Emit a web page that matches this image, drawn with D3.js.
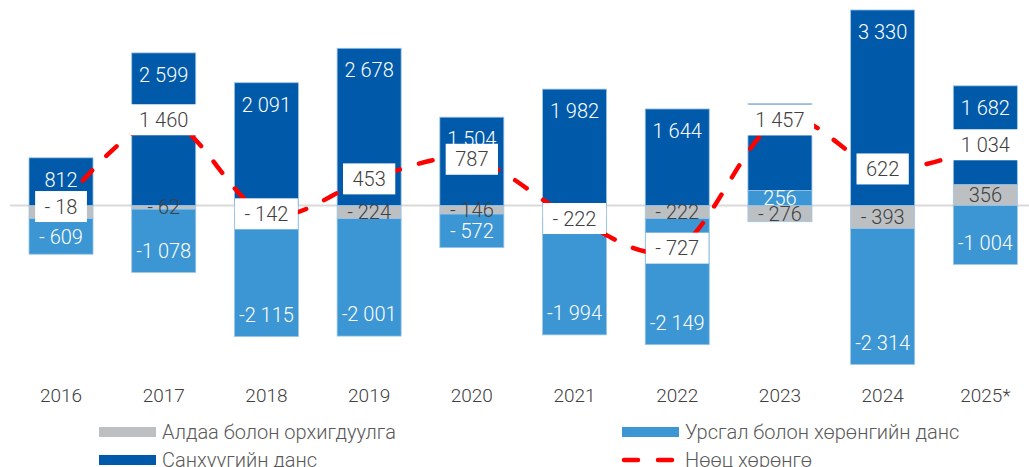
<!DOCTYPE html>
<html>
<head>
<meta charset="utf-8">
<script src="https://cdn.jsdelivr.net/npm/d3@7/dist/d3.min.js"></script>
<style>
  html, body { margin: 0; padding: 0; background: #fff; }
  svg { display: block; font-family: Roboto, "Open Sans", sans-serif; }
</style>
</head>
<body>
<svg id="chart" width="1029" height="467"></svg>
<script>
const years = ["2016","2017","2018","2019","2020","2021","2022","2023","2024","2025*"];
const errorsOmissions = [-221, -62, -118, -224, -146, -210, -222, -276, -393, 356];
const currentCapital = [-609, -1078, -2115, -2001, -572, -1994, -2149, 256, -2314, -1004];
const financialAccount = [812, 2599, 2091, 2678, 1504, 1982, 1644, 1477, 3330, 1682];
const reserveAssets = [-18, 1460, -142, 453, 787, -222, -727, 1457, 622, 1034];

const seriesNames = {
  err: "Алдаа болон орхигдуулга",
  cur: "Урсгал болон хөрөнгийн данс",
  fin: "Санхүүгийн данс",
  res: "Нөөц хөрөнгө"
};
const colors = { err: "#bdc0c3", cur: "#3b96d3", fin: "#005aa9", res: "#ff0000" };

const rows = years.map((y, i) => ({ year: y, err: errorsOmissions[i], cur: currentCapital[i], fin: financialAccount[i], res: reserveAssets[i] }));

const svg = d3.select("#chart");
const W = 1029;
const FS = 20;

const x = d3.scaleBand().domain(years).range([9.67, 1036.7]).paddingInner(0.3766).paddingOuter(0.1883);
const y = d3.scaleLinear().domain([-3000, 3500]).range([381.6, 0]);

function fmt(v) {
  const a = Math.abs(Math.round(v));
  const s = a >= 1000 ? Math.floor(a / 1000) + " " + String(a % 1000).padStart(3, "0") : String(a);
  if (v < 0) return a >= 1000 ? "-" + s : "- " + s;
  return s;
}

// zero line
svg.append("line").attr("x1", 10).attr("x2", W).attr("y1", y(0)).attr("y2", y(0))
  .attr("stroke", "#d9d9d9").attr("stroke-width", 2);

const keys = ["err", "cur", "fin"];
const stack = d3.stack().keys(keys).offset(d3.stackOffsetDiverging);
const stacked = stack(rows);

const gBars = svg.append("g");
stacked.forEach(layer => {
  gBars.selectAll(null).data(layer).enter().append("rect")
    .attr("x", d => x(d.data.year))
    .attr("width", x.bandwidth())
    .attr("y", d => y(Math.max(d[0], d[1])))
    .attr("height", d => Math.abs(y(d[0]) - y(d[1])))
    .attr("fill", colors[layer.key])
    .attr("stroke", "#9cc5e8").attr("stroke-width", 0.8);
});

// reserve label boxes (computed first so covered bar labels can be skipped)
const BOX_H = 31, PAD = 9.5;
const resBoxes = rows.map(d => {
  const cx = x(d.year) + x.bandwidth() / 2, cy = y(d.res);
  return { cx, cy, top: cy - BOX_H / 2, bot: cy + BOX_H / 2, text: fmt(d.res) };
});

// bar labels
const gLab = svg.append("g").attr("font-size", FS).attr("font-weight", 300);
stacked.forEach(layer => {
  layer.forEach((d, i) => {
    const v = d.data[layer.key];
    const top = y(Math.max(d[0], d[1])), bot = y(Math.min(d[0], d[1]));
    const h = bot - top;
    let cy;
    if (layer.key === "err") cy = (top + bot) / 2;
    else {
      const off = h >= 44 ? 22 : h / 2;
      cy = v >= 0 ? top + off : bot - off;
    }
    const b = resBoxes[i];
    if (cy > b.top && cy < b.bot) return; // hidden behind the reserve label box
    gLab.append("text")
      .attr("x", x(d.data.year) + x.bandwidth() / 2)
      .attr("y", cy).attr("dy", "0.36em")
      .attr("text-anchor", "middle")
      .attr("fill", layer.key === "err" ? "#404040" : "#ffffff")
      .text(fmt(v));
  });
});

// reserve line
const line = d3.line()
  .x(d => x(d.year) + x.bandwidth() / 2)
  .y(d => y(d.res))
  .curve(d3.curveCardinal.tension(0));
svg.append("path").datum(rows).attr("d", line)
  .attr("fill", "none").attr("stroke", colors.res).attr("stroke-width", 4.5)
  .attr("stroke-dasharray", "14,20").attr("stroke-linecap", "round");

// reserve labels with white boxes
const gRes = svg.append("g").attr("font-size", FS).attr("font-weight", 300);
resBoxes.forEach(b => {
  const g = gRes.append("g");
  const rect = g.append("rect").attr("fill", "#fff");
  const t = g.append("text").attr("x", b.cx).attr("y", b.cy).attr("dy", "0.36em")
    .attr("text-anchor", "middle").attr("fill", "#404040").text(b.text);
  const bb = t.node().getBBox();
  rect.attr("x", b.cx - bb.width / 2 - PAD).attr("width", bb.width + 2 * PAD)
    .attr("y", b.top).attr("height", BOX_H);
});

// x tick labels
const gAxis = svg.append("g").attr("transform", `translate(0,${395.5})`);
const axis = d3.axisBottom(x).tickSize(0).tickPadding(0);
gAxis.call(axis);
gAxis.select(".domain").remove();
gAxis.selectAll("text").attr("font-size", 19).attr("font-family", "Roboto, sans-serif")
  .attr("font-weight", 300).attr("fill", "#404040").attr("dy", "0.36em").attr("y", 0);

// legend
const legendItems = [
  { key: "err", x: 99, y: 432 },
  { key: "fin", x: 99, y: 460 },
  { key: "cur", x: 622, y: 432 },
  { key: "res", x: 622, y: 460 }
];
const gLeg = svg.append("g").attr("font-size", FS).attr("font-weight", 300);
legendItems.forEach(it => {
  if (it.key === "res") {
    gLeg.append("line").attr("x1", it.x + 2).attr("x2", it.x + 56).attr("y1", it.y).attr("y2", it.y)
      .attr("stroke", colors.res).attr("stroke-width", 4.5)
      .attr("stroke-dasharray", "14,20").attr("stroke-linecap", "round");
  } else {
    gLeg.append("rect").attr("x", it.x).attr("y", it.y - 5).attr("width", 57).attr("height", 10)
      .attr("fill", colors[it.key]);
  }
  gLeg.append("text").attr("x", it.x + 63).attr("y", it.y).attr("dy", "0.36em")
    .attr("fill", "#595959").text(seriesNames[it.key]);
});
</script>
</body>
</html>
